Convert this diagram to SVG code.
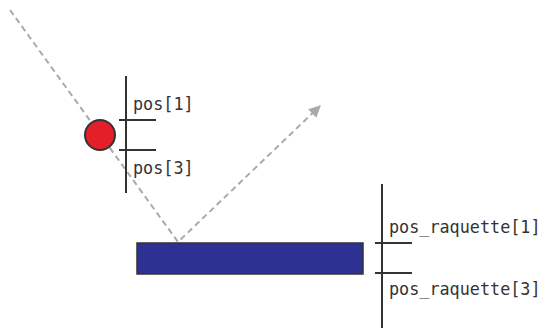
<svg xmlns="http://www.w3.org/2000/svg" width="546" height="331" viewBox="0 0 546 331">
<style>
.lbl{font-family:"DejaVu Sans Mono","Liberation Mono",monospace;font-size:16.8px;fill:#333}
.axis{stroke:#333;stroke-width:2;fill:none}
.traj{stroke:#aaa;stroke-width:2;stroke-dasharray:6 4;fill:none}
</style>
<defs>
<marker id="ah" viewBox="0 0 10 10" refX="9" refY="5" markerWidth="6" markerHeight="6" orient="auto" markerUnits="strokeWidth">
<path d="M0,0 L10,5 L0,10 z" fill="#aaa"/>
</marker>
</defs>
<rect width="546" height="331" fill="#fff"/>
<g id="connectors">
<polyline class="traj" points="10,10 178,242 320,106" marker-end="url(#ah)"/>
</g>
<g id="ball">
<circle cx="100" cy="135" r="15" fill="#e3202a" stroke="#333" stroke-width="2"/>
</g>
<g id="ball-axis">
<line class="axis" x1="126" y1="76" x2="126" y2="193"/>
<line class="axis" x1="119" y1="120" x2="156" y2="120"/>
<line class="axis" x1="119" y1="150" x2="156" y2="150"/>
<text class="lbl" x="133" y="110">pos[1]</text>
<text class="lbl" x="133" y="174">pos[3]</text>
</g>
<g id="paddle">
<rect x="137" y="243" width="226" height="31" fill="#2e3192" stroke="#333" stroke-width="1.5"/>
</g>
<g id="paddle-axis">
<line class="axis" x1="382" y1="184" x2="382" y2="328"/>
<line class="axis" x1="375" y1="243" x2="412" y2="243"/>
<line class="axis" x1="375" y1="273" x2="412" y2="273"/>
<text class="lbl" x="389" y="233">pos_raquette[1]</text>
<text class="lbl" x="389" y="295">pos_raquette[3]</text>
</g>
</svg>
